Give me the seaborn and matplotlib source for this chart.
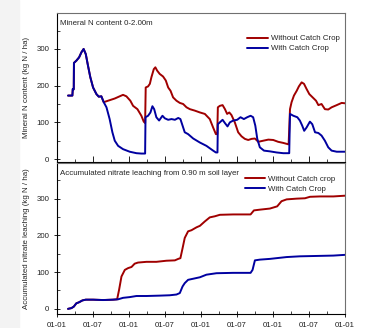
import matplotlib
matplotlib.use('Agg')
import matplotlib.pyplot as plt
import matplotlib.dates as mdates
from matplotlib.ticker import MultipleLocator
import pandas as pd
import seaborn as sns

# days since 2001-01-01
start = pd.Timestamp('2001-01-01')
end = pd.Timestamp('2005-01-01')

# --- Mineral N content 0-2.00 m (kg N / ha)
min_with_days = [56, 78, 80, 85, 86, 98, 112, 124, 135, 146, 157, 169, 183, 200, 212, 225, 237,
                 251, 267, 281, 293, 310, 335, 369, 403, 428, 447, 449, 462, 474, 484, 493, 504,
                 518, 535, 547, 564, 581, 598, 615, 626, 637, 648, 665, 691, 725, 758, 792, 806,
                 814, 816, 826, 840, 852, 865, 877, 894, 914, 931, 948, 965, 982, 995, 1006,
                 1016, 1029, 1050, 1080, 1114, 1148, 1178, 1182, 1199, 1219, 1232, 1244, 1254,
                 1266, 1283, 1295, 1309, 1326, 1342, 1359, 1376, 1393, 1419, 1461]
min_with_vals = [173, 173, 191, 190, 262, 268, 277, 291, 300, 286, 255, 223, 195, 177, 170, 171, 155,
                 141, 109, 73, 50, 36, 27, 20, 16, 15, 15, 114, 118, 127, 144, 136, 114,
                 105, 118, 111, 107, 109, 107, 112, 109, 91, 73, 68, 56, 45, 36, 23, 18,
                 18, 95, 100, 107, 98, 89, 100, 105, 107, 114, 109, 114, 118, 114, 91,
                 55, 32, 23, 21, 18, 16, 16, 123, 118, 114, 105, 91, 77,
                 86, 102, 95, 73, 71, 64, 50, 32, 23, 20, 20]

min_without_days = min_with_days[:17] + [
    259, 293, 318, 335, 352, 372, 386, 408, 428, 440, 447, 450, 462, 471, 479, 491, 499, 508,
    521, 538, 552, 564, 576, 589, 606, 623, 640, 657, 674, 699, 725, 750, 775, 792, 806, 813,
    816, 826, 840, 852, 863, 874, 885, 902, 919, 936, 953, 970, 987, 1004, 1021, 1046, 1072,
    1097, 1122, 1148, 1175, 1182, 1190, 1202, 1216, 1227, 1241, 1253, 1266, 1280, 1297, 1314,
    1326, 1342, 1359, 1376, 1393, 1419, 1444, 1461]
min_without_vals = min_with_vals[:17] + [
    159, 165, 171, 175, 171, 159, 145, 136, 118, 102, 98, 195, 198, 205, 223, 245, 250, 241,
    232, 225, 214, 195, 186, 168, 159, 153, 150, 141, 136, 132, 127, 123, 109, 86, 68, 68,
    141, 145, 147, 136, 123, 127, 120, 100, 73, 62, 55, 52, 55, 56, 47, 50, 53,
    52, 47, 44, 40, 136, 155, 173, 186, 198, 209, 205, 191, 177, 168, 159,
    147, 150, 136, 135, 141, 147, 153, 152]

# --- Accumulated nitrate leaching from 0.90 m (kg N / ha)
leach_with_days = [56, 73, 85, 98, 112, 129, 146, 183, 234, 284, 310, 335, 369, 403, 454, 521,
                   572, 606, 623, 637, 648, 665, 691, 725, 758, 809, 894, 982, 992, 1004, 1029,
                   1080, 1114, 1165, 1232, 1317, 1402, 1461]
leach_with_vals = [0, 2, 6, 15, 18, 23, 25, 25, 24, 25, 26, 30, 32, 35, 35, 36,
                   37, 39, 43, 61, 70, 79, 82, 86, 93, 97, 98, 98, 106, 132, 134,
                   136, 138, 141, 143, 144, 145, 147]

leach_without_days = leach_with_days[:10] + [
    305, 315, 327, 344, 361, 378, 394, 411, 454, 504, 555, 598, 615, 626, 637, 648, 665, 682,
    708, 725, 750, 775, 801, 826, 894, 982, 999, 1029, 1080, 1117, 1139, 1165, 1216, 1258,
    1283, 1334, 1402, 1461]
leach_without_vals = leach_with_vals[:10] + [
    26, 52, 88, 106, 111, 114, 123, 126, 128, 128, 131, 132, 136, 138, 165, 193, 211, 214,
    222, 226, 238, 249, 252, 256, 257, 257, 268, 270, 273, 279, 293, 298, 300, 301,
    305, 306, 306, 308]

red = '#a00000'
blue = '#0000a0'
fs = 5.7


def to_dates(days):
    return start + pd.to_timedelta(days, unit='D')


sns.set_style('ticks')
plt.rcParams['font.family'] = ['Liberation Sans', 'DejaVu Sans']
plt.rcParams['font.size'] = fs

fig = plt.figure(figsize=(3.68, 3.28), dpi=100)
fig.patches.append(plt.Rectangle((0, 0), 19 / 368, 1, transform=fig.transFigure,
                                 color='#f3f3f3', zorder=0))

ax1 = fig.add_axes([57 / 368, 1 - 162 / 328, 288 / 368, 149 / 328])
ax2 = fig.add_axes([57 / 368, 1 - 314 / 328, 288 / 368, 151 / 328])

sns.lineplot(x=to_dates(min_without_days), y=min_without_vals, color=red, lw=1.4,
             label='Without Catch Crop', ax=ax1)
sns.lineplot(x=to_dates(min_with_days), y=min_with_vals, color=blue, lw=1.4,
             label='With Catch Crop', ax=ax1)
sns.lineplot(x=to_dates(leach_without_days), y=leach_without_vals, color=red, lw=1.4,
             label='Without Catch crop', ax=ax2)
sns.lineplot(x=to_dates(leach_with_days), y=leach_with_vals, color=blue, lw=1.4,
             label='With Catch Crop', ax=ax2)

ax1.set_ylim(-8, 398)
ax2.set_ylim(-14, 397)
ax1.set_ylabel('Mineral N content (kg N / ha)', fontsize=fs, labelpad=5)
ax2.set_ylabel('Accumulated nitrate leaching (kg N / ha)', fontsize=fs, labelpad=5)
ax1.text(0.01, 0.955, 'Mineral N content 0-2.00m', transform=ax1.transAxes, va='top', fontsize=fs)
ax2.text(0.01, 0.955, 'Accumulated nitrate leaching from 0.90 m soil layer',
         transform=ax2.transAxes, va='top', fontsize=fs)

for ax in (ax1, ax2):
    ax.set_xlim(start, end)
    ax.xaxis.set_major_locator(mdates.MonthLocator(bymonth=[1, 7]))
    ax.xaxis.set_minor_locator(mdates.MonthLocator(bymonth=[4, 10]))
    ax.xaxis.set_major_formatter(mdates.DateFormatter('%d-%m'))
    ax.yaxis.set_major_locator(MultipleLocator(100))
    ax.yaxis.set_minor_locator(MultipleLocator(50))
    ax.tick_params(which='major', direction='inout', length=4, width=0.7, labelsize=fs,
                   colors='#222222')
    ax.tick_params(which='minor', direction='in', length=2, width=0.6)
    ax.set_xlabel('')
    for side in ('left', 'bottom'):
        ax.spines[side].set_color('black')
        ax.spines[side].set_linewidth(0.8)
    for side in ('top', 'right'):
        ax.spines[side].set_visible(True)
        ax.spines[side].set_color('#707070')
        ax.spines[side].set_linewidth(0.8)

ax1.tick_params(axis='x', which='both', direction='in', labelbottom=False)

ax1.legend(loc='upper right', bbox_to_anchor=(1.0, 0.89), frameon=False, fontsize=fs,
           handlelength=2.6, handletextpad=0.35, labelspacing=0.3, borderaxespad=0.3)
ax2.legend(loc='upper right', bbox_to_anchor=(0.985, 0.955), frameon=False, fontsize=fs,
           handlelength=2.6, handletextpad=0.35, labelspacing=0.3, borderaxespad=0.3)

fig.savefig('out.png', dpi=100)
